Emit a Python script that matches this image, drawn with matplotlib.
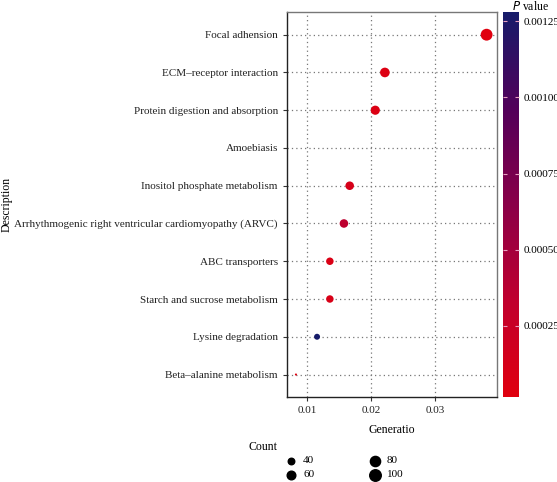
import numpy as np
import matplotlib
matplotlib.use('Agg')
import matplotlib.pyplot as plt
from matplotlib.colors import LinearSegmentedColormap, Normalize

plt.rcParams['font.family'] = ['Liberation Serif', 'DejaVu Serif']

### DATA (top to bottom)

pathways = ['Focal adhension', 'ECM\u2013receptor interaction', 'Protein digestion and absorption',
            'Amoebiasis', 'Inositol phosphate metabolism',
            'Arrhythmogenic right ventricular cardiomyopathy (ARVC)', 'ABC transporters',
            'Starch and sucrose metabolism', 'Lysine degradation', 'Beta\u2013alanine metabolism']
generatio = [0.0381, 0.0222, 0.0207, np.nan, 0.0167, 0.0158, 0.0136, 0.0136, 0.0116, 0.0083]
counts = [105, 72, 66, np.nan, 59, 59, 48, 48, 36, 23]
pvalues = [0.00002, 0.00005, 0.00006, np.nan, 0.00012, 0.00035, 0.00008, 0.00010, 0.00128, 0.0000164]

legend_counts = [40, 60, 80, 100]
x_ticks = [0.01, 0.02, 0.03]
cbar_ticks = [0.00025, 0.0005, 0.00075, 0.001, 0.00125]

### HELPERS

cmap = LinearSegmentedColormap.from_list('pval', ['#e0000f', '#c0002e', '#8a0048', '#52005a', '#161c6a'])

c_arr = np.array(counts, dtype=float)
cmin, cmax = np.nanmin(c_arr), np.nanmax(c_arr)

def marker_area(c):
    # ggplot-like area scale: diameter grows with sqrt of rescaled count
    d_px = 2.1 + 1.95 * 5 * np.sqrt((np.asarray(c, dtype=float) - cmin) / (cmax - cmin))
    return (d_px * 0.72) ** 2

### PLOT

fig = plt.figure(figsize=(5.57, 4.82), dpi=100)
ax = fig.add_axes([0.515, 0.176, 0.377, 0.799])
cax = fig.add_axes([0.903, 0.176, 0.029, 0.799])

ypos = np.arange(len(pathways))[::-1]
norm = Normalize(vmin=np.nanmin(pvalues), vmax=np.nanmax(pvalues))

ax.set_axisbelow(True)
sc = ax.scatter(generatio, ypos, s=marker_area(counts), c=pvalues, cmap=cmap, norm=norm,
                edgecolors='none', zorder=3)

ax.set_yticks(ypos)
ax.set_yticklabels(pathways, fontsize=8)
ax.set_ylim(-0.6, len(pathways) - 1 + 0.6)
ax.set_xticks(x_ticks)
ax.set_xticklabels(['0.01', '0.02', '0.03'], fontsize=8)
ax.set_xlim(0.00688, 0.0397)
ax.grid(True, linestyle=(0, (1, 2.5)), color='#777777', linewidth=0.9)
ax.tick_params(length=3, width=0.8, color='#333333', labelcolor='#222222')
for side, sp in ax.spines.items():
    sp.set_color('#777777')
    sp.set_linewidth(1.0)
ax.spines['left'].set_color('#222222')
ax.spines['bottom'].set_color('#222222')

ax.set_xlabel('Generatio', fontsize=8.5, labelpad=6)
fig.text(0.012, 0.576, 'Description', rotation=90, fontsize=8.5, ha='center', va='center')

# colour bar
cb = fig.colorbar(sc, cax=cax, ticks=cbar_ticks)
cb.outline.set_visible(False)
cb.ax.set_yticklabels(['0.00025', '0.00050', '0.00075', '0.00100', '0.00125'])
cb.ax.yaxis.set_ticks_position('both')
cb.ax.tick_params(direction='in', length=3, width=0.8, color='#e8a0c0',
                  labelsize=8, labelleft=False, labelright=True, pad=3)
fig.text(0.953, 0.999, r'$P$ value', fontsize=8.5, ha='center', va='top')

# size legend
fig.text(0.473, 0.072, 'Count', fontsize=8.5, ha='center', va='center')
leg_x = [0.522, 0.522, 0.673, 0.673]
leg_y = [0.044, 0.015, 0.044, 0.015]
for c, lx, ly in zip(legend_counts, leg_x, leg_y):
    fig.add_artist(plt.Line2D([lx], [ly], marker='o', linestyle='none', color='black',
                              markersize=np.sqrt(marker_area(c)), transform=fig.transFigure))
    fig.text(lx + 0.022, ly, str(c), fontsize=8, va='center', ha='left')

plt.savefig('out.png', dpi=100)
